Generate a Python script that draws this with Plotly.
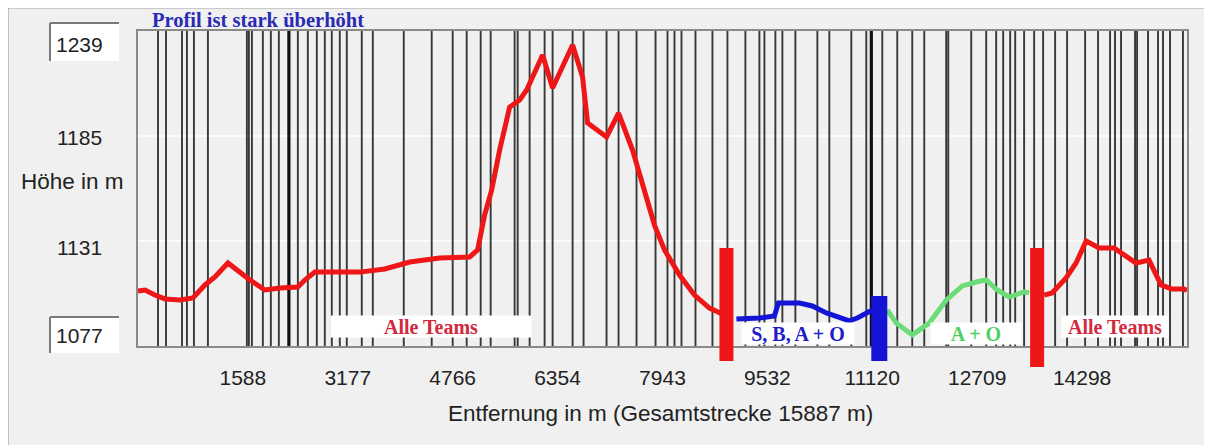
import plotly.graph_objects as go

# ---------------- data ----------------
total_m = 15887
y_min, y_max = 1077, 1239

x_tick_vals = [1588, 3177, 4766, 6354, 7943, 9532, 11120, 12709, 14298]
y_tick_vals = [1239, 1185, 1131, 1077]

# waypoint / marker lines (distance in m)
marker_lines = [303, 424, 666, 741, 847, 1059, 1649, 1679, 1725, 1891, 2012, 2133,
                2421, 2572, 2708, 2829, 2935, 3056, 3162, 3389, 3556, 4025, 4448,
                4766, 4978, 5190, 5341, 5704, 5750, 5931, 6158, 6279, 6582, 6748,
                7096, 7278, 7550, 7838, 8019, 8125, 8231, 8443, 8700, 8927, 9199,
                9411, 9487, 9653, 9759, 9956, 10289, 10470, 10803, 11030, 11272,
                11499, 11726, 11908, 12240, 12271, 12619, 12846, 12997, 13103,
                13209, 13285, 13420, 13572, 13708, 13890, 14071, 14344, 14540,
                14722, 14797, 14888, 15100, 15131, 15297, 15448, 15524, 15630, 15826]
marker_lines_bold = [2285, 11106]

# elevation profile, segment 1 (all teams)
red1_x = [0, 106, 257, 409, 635, 832, 1014, 1165, 1362, 1543, 1695, 1922, 2149, 2421,
          2527, 2678, 2905, 3359, 3737, 3964, 4115, 4569, 5023, 5144, 5250, 5356,
          5477, 5629, 5780, 5886, 6007, 6128, 6279, 6582, 6733, 6809, 7096, 7278,
          7490, 7671, 7822, 7974, 8201, 8428, 8655, 8882]
red1_y = [1105.3, 1105.8, 1103.2, 1101.2, 1100.7, 1101.7, 1108.4, 1112.5, 1119.7,
          1114.5, 1110.9, 1105.8, 1106.8, 1107.3, 1110.9, 1115.0, 1115.0, 1115.0,
          1116.6, 1118.6, 1120.2, 1122.3, 1122.8, 1126.4, 1144.4, 1157.2, 1177.8,
          1199.9, 1203.5, 1208.7, 1217.9, 1226.7, 1209.7, 1231.8, 1215.3, 1191.7,
          1184.5, 1196.8, 1177.8, 1157.2, 1139.2, 1126.4, 1113.5, 1103.2, 1096.5,
          1092.9]

# segment 2 (S, B, A + O)
blue_x = [9063, 9411, 9638, 9699, 10017, 10213, 10425, 10622, 10773, 10894, 11030, 11121]
blue_y = [1090.9, 1091.4, 1092.4, 1099.1, 1099.1, 1097.6, 1094.0, 1091.9, 1089.9,
          1091.4, 1094.0, 1095.5]

# segment 3 (A + O)
green_x = [11348, 11484, 11726, 11983, 12240, 12483, 12695, 12846, 13012, 13194, 13421, 13496]
green_y = [1095.5, 1088.8, 1082.7, 1088.8, 1100.6, 1107.9, 1109.9, 1111.0, 1105.8,
           1102.2, 1104.8, 1104.3]

# segment 4 (all teams)
red2_x = [13723, 13844, 14056, 14207, 14359, 14555, 14782, 14903, 15115, 15312,
          15494, 15660, 15842, 15887]
red2_y = [1103.2, 1104.3, 1112.0, 1119.7, 1131.0, 1127.4, 1127.4, 1124.8, 1119.7,
          1121.2, 1108.4, 1106.3, 1106.3, 1105.5]

# segment boundaries (distance in m)
boundary_x = [8912, 11227, 13617]

segment_labels = ["Alle Teams", "S, B, A + O", "A + O", "Alle Teams"]
segment_label_x = [4433, 10001, 12694, 14797]

# ---------------- layout helpers ----------------
OFF = 8                      # page body margin
W, H = 1212 - OFF, 445 - OFF
L, T = 138 - OFF, 31 - OFF
R = W - (1187 - OFF)
B = H - (346 - OFF)
PW = W - L - R
PH = H - T - B


def px(xp):
    """reference-image x pixel -> paper coordinate"""
    return (xp - OFF - L) / PW


def py(yp):
    """reference-image y pixel -> paper coordinate"""
    return (H - B - (yp - OFF)) / PH


RED = "#ee1616"
BLUE = "#1414d6"
GREEN = "#6cdc78"
SANS = "Liberation Sans, Arial, sans-serif"
SERIF = "Liberation Serif, Times New Roman, serif"

fig = go.Figure()

# vertical marker lines
vx, vy = [], []
for m in marker_lines:
    vx += [m, m, None]
    vy += [y_min, y_max, None]
fig.add_trace(go.Scatter(x=vx, y=vy, mode="lines",
                         line=dict(color="#383838", width=1.9), hoverinfo="skip"))
bx, by = [], []
for m in marker_lines_bold:
    bx += [m, m, None]
    by += [y_min, y_max, None]
fig.add_trace(go.Scatter(x=bx, y=by, mode="lines",
                         line=dict(color="#111111", width=3.2), hoverinfo="skip"))

# profile
for xs, ys, col in [(red1_x, red1_y, RED), (blue_x, blue_y, BLUE),
                    (green_x, green_y, GREEN), (red2_x, red2_y, RED)]:
    fig.add_trace(go.Scatter(x=xs, y=ys, mode="lines",
                             line=dict(color=col, width=5), hoverinfo="skip"))

shapes = []
# outer etched frame
shapes.append(dict(type="rect", xref="paper", yref="paper", layer="below",
                   x0=px(8), x1=px(1207), y0=py(460), y1=py(8),
                   line=dict(color="#a0a0a0", width=1.2), fillcolor="#f0f0f0"))

# boundary bars
bar_cols = [RED, BLUE, RED]
bar_tops = [248, 296, 248]
bar_bots = [361, 361, 367]
bar_w = [14, 16, 14]
for xb, c, t, b, w in zip(boundary_x, bar_cols, bar_tops, bar_bots, bar_w):
    shapes.append(dict(type="line", xref="x", yref="paper", x0=xb, x1=xb,
                       y0=py(b), y1=py(t), line=dict(color=c, width=w)))

# boxed y labels (1239, 1077)
for top, bot in [(23, 61), (317, 353)]:
    shapes.append(dict(type="rect", xref="paper", yref="paper",
                       x0=px(50), x1=px(119), y0=py(bot), y1=py(top),
                       line=dict(width=0), fillcolor="#ffffff"))
    shapes.append(dict(type="line", xref="paper", yref="paper",
                       x0=px(50), x1=px(119), y0=py(top), y1=py(top),
                       line=dict(color="#7a7a7a", width=2)))
    shapes.append(dict(type="line", xref="paper", yref="paper",
                       x0=px(50), x1=px(50), y0=py(bot), y1=py(top),
                       line=dict(color="#7a7a7a", width=2)))

annotations = []
# y labels
ylab_pos = {1239: 45, 1185: 137, 1131: 247, 1077: 335}
for v in y_tick_vals:
    annotations.append(dict(text=str(v), xref="paper", yref="paper",
                            x=px(79), y=py(ylab_pos[v]), xanchor="center",
                            yanchor="middle", showarrow=False,
                            font=dict(family=SANS, size=21, color="#222222")))
annotations.append(dict(text="Höhe in m", xref="paper", yref="paper",
                        x=px(72), y=py(181), xanchor="center", yanchor="middle",
                        showarrow=False, font=dict(family=SANS, size=22.5, color="#222222")))
annotations.append(dict(text="Entfernung in m (Gesamtstrecke 15887 m)",
                        xref="paper", yref="paper", x=px(660), y=py(413),
                        xanchor="center", yanchor="middle", showarrow=False,
                        font=dict(family=SANS, size=22.5, color="#222222")))
annotations.append(dict(text="<b>Profil ist stark überhöht</b>", xref="paper",
                        yref="paper", x=px(150), y=py(20), xanchor="left",
                        yanchor="middle", showarrow=False,
                        font=dict(family=SERIF, size=20.5, color="#2a2ab4")))

# segment labels in white boxes
lab_cols = ["#d22a3c", "#2020c8", "#4fd060", "#d22a3c"]
lab_y = [326, 333, 333, 326]
lab_w = [200, 112, 90, 106]
lab_h = [21, 21, 21, 21]
for txt, xm, c, yy, w, h in zip(segment_labels, segment_label_x, lab_cols, lab_y, lab_w, lab_h):
    annotations.append(dict(text="<b>%s</b>" % txt, xref="x", yref="paper",
                            x=xm, y=py(yy), xanchor="center", yanchor="middle",
                            showarrow=False, bgcolor="#ffffff", width=w, height=h,
                            borderpad=0, align="center",
                            font=dict(family=SERIF, size=20, color=c)))

fig.update_layout(
    width=W, height=H,
    margin=dict(l=L, r=R, t=T, b=B),
    paper_bgcolor="#ffffff",
    plot_bgcolor="#f0f0f0",
    showlegend=False,
    shapes=shapes,
    annotations=annotations,
    xaxis=dict(range=[0, total_m], tickmode="array", tickvals=x_tick_vals,
               ticktext=[str(v) for v in x_tick_vals], ticks="", showgrid=False,
               zeroline=False, showline=True, linecolor="#8a8a8a", linewidth=1.5,
               mirror=True, ticklabelstandoff=12,
               tickfont=dict(family=SANS, size=21, color="#222222")),
    yaxis=dict(range=[y_min, y_max], tickmode="array", tickvals=y_tick_vals[1:3],
               showticklabels=False, ticks="", showgrid=True, gridcolor="#fbfbfb",
               gridwidth=2, zeroline=False, showline=True, linecolor="#8a8a8a",
               linewidth=1.5, mirror=True),
)

fig.write_html("out.html")
